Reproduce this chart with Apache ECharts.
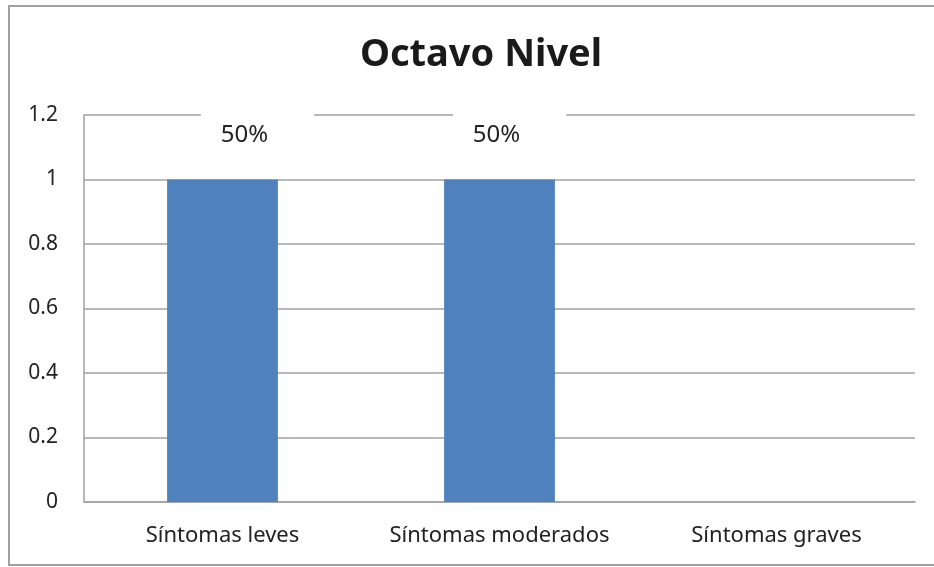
<!DOCTYPE html>
<html>
<head>
<meta charset="utf-8">
<script src="https://cdn.jsdelivr.net/npm/echarts@6/dist/echarts.min.js"></script>
<style>
    html, body { margin: 0; padding: 0; background: #fff; }
    #chart { width: 934px; height: 567px; }
</style>
</head>
<body>
<div id="chart"></div>
<script>
// data
let categories = ['Síntomas leves', 'Síntomas moderados', 'Síntomas graves']
let values = [1, 1, 0]
let labelTexts = ['50%', '50%', '']
let yTicks = [0, 0.2, 0.4, 0.6, 0.8, 1, 1.2]

let myChart = echarts.init(document.getElementById('chart'))

// label box offsets (excel moved them a bit)
let labelDx = [35, 10, 0]

let option = {
    animation: false,
    textStyle: { fontFamily: 'Noto Sans' },
    graphic: [
        {
            type: 'rect',
            shape: { x: 9, y: 6, width: 940, height: 559 },
            style: { fill: 'none', stroke: '#a0a0a0', lineWidth: 2 },
            silent: true
        }
    ],
    title: {
        text: 'Octavo Nivel',
        left: 476,
        top: 31,
        textAlign: 'center',
        textStyle: {
            fontFamily: 'Noto Sans',
            fontSize: 38,
            fontWeight: 'bold',
            color: '#1a1a1a'
        }
    },
    grid: {
        left: 84,
        right: 19,
        top: 115,
        bottom: 65
    },
    xAxis: {
        type: 'category',
        data: categories,
        axisTick: { show: false },
        axisLine: { lineStyle: { color: '#a0a0a0', width: 1.5 } },
        axisLabel: {
            interval: 0,
            hideOverlap: false,
            fontSize: 22,
            color: '#222',
            margin: 23
        }
    },
    yAxis: {
        type: 'value',
        min: yTicks[0],
        max: yTicks[yTicks.length - 1],
        interval: 0.2,
        axisLine: { show: true, lineStyle: { color: '#a0a0a0', width: 1.5 } },
        axisTick: { show: false },
        splitLine: { lineStyle: { color: '#a0a0a0', width: 1.5 } },
        axisLabel: {
            fontSize: 21,
            color: '#222',
            margin: 26,
            formatter: function (v) { return String(Math.round(v * 10) / 10) }
        }
    },
    series: [
        {
            type: 'bar',
            barWidth: '40%',
            z: 2,
            itemStyle: { color: '#4f81bd' },
            data: values.map(function (v, i) {
                return {
                    value: v,
                    label: { offset: [labelDx[i], 0] }
                }
            }),
            label: {
                show: true,
                position: 'top',
                distance: 22,
                fontSize: 24,
                lineHeight: 28,
                color: '#222',
                backgroundColor: '#fff',
                padding: [8, 46, 8, 20],
                formatter: function (p) { return labelTexts[p.dataIndex] }
            }
        }
    ]
}
myChart.setOption(option)
</script>
</body>
</html>
